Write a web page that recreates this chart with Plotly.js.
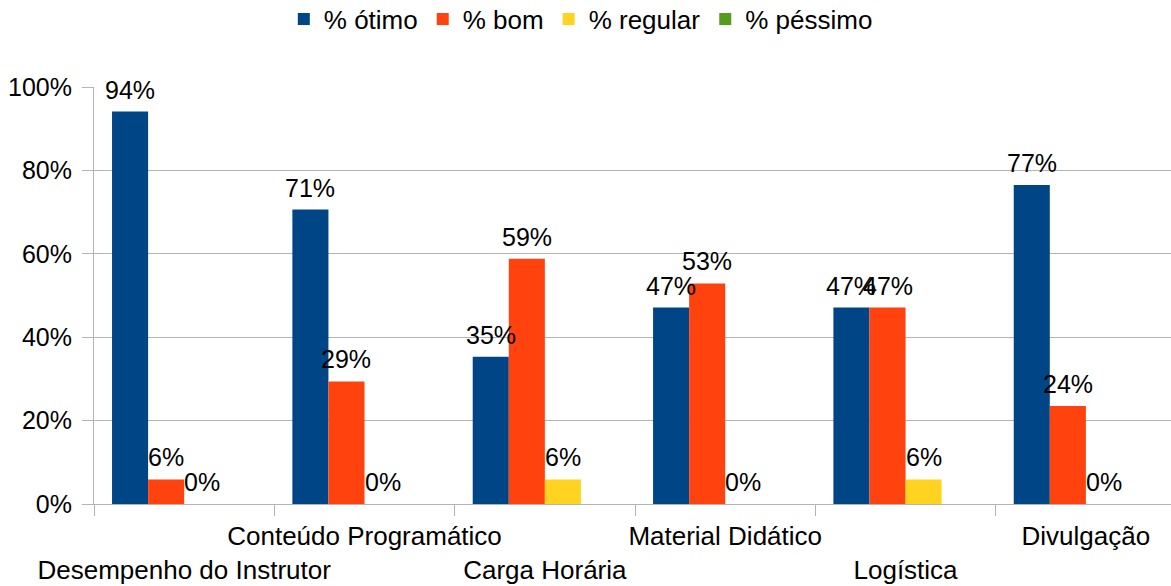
<!DOCTYPE html>
<html>
<head>
<meta charset="utf-8">
<script src="https://cdn.plot.ly/plotly-3.0.1.min.js"></script>
<style>
  html, body { margin: 0; padding: 0; background: #ffffff; overflow: hidden; }
  #chart { width: 1171px; height: 586px; }
</style>
</head>
<body>
<div id="chart"></div>
<script>
// Categories (x axis)
const categories = [
  "Desempenho do Instrutor",
  "Conteúdo Programático",
  "Carga Horária",
  "Material Didático",
  "Logística",
  "Divulgação"
];
// Staggered tick labels as drawn in the reference
const tickLabels = [
  "\u00a0<br>Desempenho do Instrutor",
  "Conteúdo Programático",
  "\u00a0<br>Carga Horária",
  "Material Didático",
  "\u00a0<br>Logística",
  "Divulgação"
];
// Series values (fractions)
const otimo   = [0.941, 0.706, 0.353, 0.471, 0.471, 0.765];
const bom     = [0.059, 0.294, 0.588, 0.529, 0.471, 0.235];
const regular = [0.000, 0.000, 0.059, 0.000, 0.059, 0.000];
const pessimo = [null, null, null, null, null, null];

const seriesNames  = ["% ótimo", "% bom", "% regular", "% péssimo"];
const seriesValues = [otimo, bom, regular, pessimo];
const seriesColors = ["#004586", "#ff420e", "#ffd320", "#579d1c"];
const yTickVals = [0, 0.2, 0.4, 0.6, 0.8, 1.0];

const FONT = "Liberation Sans, Arial, Helvetica, sans-serif";

const WIDTH = 1171, HEIGHT = 586;
const MARGIN = { l: 94, r: 0, t: 87, b: 82, pad: 0, autoexpand: false };
const XRANGE = [-0.5, 5.472];
const BARGAP = 0.2;

const traces = seriesNames.map((name, i) => ({
  type: "bar",
  name: name,
  x: categories,
  y: seriesValues[i],
  marker: { color: seriesColors[i], line: { width: 0 } },
  textposition: "none",
  hoverinfo: "skip"
}));

// Data labels placed above each bar (value-driven), shifted to the bar's slot in the group
const plotW = WIDTH - MARGIN.l - MARGIN.r;
const pxPerCat = plotW / (XRANGE[1] - XRANGE[0]);
const nGroup = seriesNames.length;
const barPx = pxPerCat * (1 - BARGAP) / nGroup;
const annotations = [];
seriesValues.forEach((vals, i) => {
  vals.forEach((v, j) => {
    if (v === null || v === undefined) return;
    annotations.push({
      x: categories[j],
      y: v,
      xref: "x",
      yref: "y",
      text: Math.round(v * 100) + "%",
      showarrow: false,
      xanchor: "center",
      yanchor: "bottom",
      xshift: (i - (nGroup - 1) / 2) * barPx,
      yshift: 6,
      font: { family: FONT, size: 25, color: "#000000" }
    });
  });
});

const layout = {
  width: WIDTH,
  height: HEIGHT,
  margin: MARGIN,
  paper_bgcolor: "#ffffff",
  plot_bgcolor: "#ffffff",
  font: { family: FONT, size: 25, color: "#000000" },
  barmode: "group",
  bargap: BARGAP,
  bargroupgap: 0,
  showlegend: true,
  legend: {
    orientation: "h",
    x: 0.452,
    xanchor: "center",
    y: 1.163,
    yanchor: "middle",
    font: { family: FONT, size: 26, color: "#000000" },
    itemwidth: 30,
    traceorder: "normal",
    bgcolor: "rgba(0,0,0,0)"
  },
  annotations: annotations,
  xaxis: {
    type: "category",
    range: XRANGE,
    tickmode: "array",
    tickvals: categories,
    ticktext: tickLabels,
    tickson: "boundaries",
    ticks: "outside",
    ticklen: 11,
    tickwidth: 1,
    tickcolor: "#b3b3b3",
    ticklabelstandoff: 9,
    showline: true,
    linecolor: "#b3b3b3",
    linewidth: 1,
    showgrid: false,
    zeroline: false,
    tickangle: 0,
    tickfont: { family: FONT, size: 26, color: "#000000" },
    fixedrange: true,
    automargin: false
  },
  yaxis: {
    range: [0, 1.0],
    tickmode: "array",
    tickvals: yTickVals,
    tickformat: ".0%",
    ticks: "outside",
    ticklen: 11,
    tickwidth: 1,
    tickcolor: "#b3b3b3",
    ticklabelstandoff: 5,
    showline: true,
    linecolor: "#b3b3b3",
    linewidth: 1,
    showgrid: true,
    gridcolor: "#b3b3b3",
    gridwidth: 1,
    zeroline: false,
    tickfont: { family: FONT, size: 25, color: "#000000" },
    fixedrange: true,
    automargin: false
  }
};

Plotly.newPlot("chart", traces, layout, { displayModeBar: false, staticPlot: true });
</script>
</body>
</html>
